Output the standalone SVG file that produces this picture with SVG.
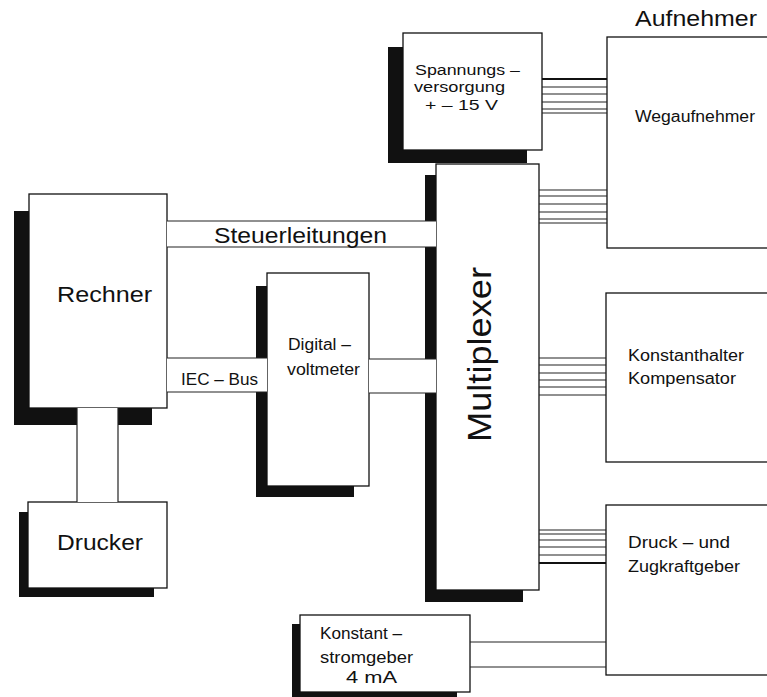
<svg xmlns="http://www.w3.org/2000/svg" width="767" height="697" viewBox="0 0 767 697">
<style>
.box{fill:#fff;stroke:#111;stroke-width:1.3}
.sh{fill:#111}
.ln{stroke:#222;stroke-width:1.2;fill:none}
.thk{stroke:#111;stroke-width:2.2;fill:none}
.band{fill:#fff;stroke:none}
text{font-family:"Liberation Sans",Arial,sans-serif;fill:#111}
.s{font-size:16px}
.xs{font-size:14px}
.m{font-size:22px}
.l{font-size:34px}
</style>
<rect width="767" height="697" fill="#fff"/>

<g id="aufnehmer-title"><text class="m" x="635" y="26" textLength="122" lengthAdjust="spacingAndGlyphs">Aufnehmer</text></g>

<g id="spannungsversorgung">
<rect class="sh" x="388" y="47" width="139" height="116"/>
<rect class="box" x="403" y="33" width="139" height="117"/>
<text class="xs" x="415" y="75" textLength="105" lengthAdjust="spacingAndGlyphs">Spannungs –</text>
<text class="xs" x="414" y="92" textLength="91" lengthAdjust="spacingAndGlyphs">versorgung</text>
<text class="xs" x="425" y="110" textLength="73" lengthAdjust="spacingAndGlyphs">+ –  15 V</text>
</g>

<g id="rechner">
<rect class="sh" x="14" y="211" width="138" height="214"/>
<rect class="box" x="29" y="194" width="138" height="214"/>
<text class="m" x="57" y="302" textLength="95" lengthAdjust="spacingAndGlyphs">Rechner</text>
</g>

<g id="multiplexer">
<rect class="sh" x="425" y="175" width="98" height="427"/>
<rect class="box" x="436" y="164" width="103" height="426"/>
<text class="l" transform="translate(491,442) rotate(-90)" textLength="175" lengthAdjust="spacingAndGlyphs">Multiplexer</text>
</g>

<g id="digitalvoltmeter">
<rect class="sh" x="256" y="286" width="98" height="211"/>
<rect class="box" x="267" y="273" width="102" height="213"/>
<text class="s" x="288" y="350" textLength="63" lengthAdjust="spacingAndGlyphs">Digital –</text>
<text class="s" x="287" y="375" textLength="73" lengthAdjust="spacingAndGlyphs">voltmeter</text>
</g>

<g id="drucker">
<rect class="sh" x="19" y="512" width="135" height="85"/>
<rect class="box" x="28" y="502" width="139" height="86"/>
<text class="m" x="57" y="550" textLength="86" lengthAdjust="spacingAndGlyphs">Drucker</text>
</g>

<g id="konstantstromgeber">
<rect class="sh" x="292" y="624" width="165" height="80"/>
<rect class="box" x="300" y="615" width="170" height="77"/>
<text class="s" x="320" y="639" textLength="82" lengthAdjust="spacingAndGlyphs">Konstant –</text>
<text class="s" x="320" y="663" textLength="93" lengthAdjust="spacingAndGlyphs">stromgeber</text>
<text class="s" x="346" y="683" textLength="51" lengthAdjust="spacingAndGlyphs">4 mA</text>
</g>

<g id="wegaufnehmer">
<rect class="box" x="607" y="37" width="175" height="211"/>
<text class="s" x="635" y="122" textLength="120" lengthAdjust="spacingAndGlyphs">Wegaufnehmer</text>
</g>

<g id="konstanthalter">
<rect class="box" x="606" y="293" width="175" height="169"/>
<text class="s" x="628" y="361" textLength="116" lengthAdjust="spacingAndGlyphs">Konstanthalter</text>
<text class="s" x="628" y="384" textLength="108" lengthAdjust="spacingAndGlyphs">Kompensator</text>
</g>

<g id="druckgeber">
<rect class="box" x="606" y="505" width="175" height="170"/>
<text class="s" x="628" y="548" textLength="102" lengthAdjust="spacingAndGlyphs">Druck –  und</text>
<text class="s" x="628" y="572" textLength="112" lengthAdjust="spacingAndGlyphs">Zugkraftgeber</text>
</g>

<g id="connectors">
<!-- Steuerleitungen -->
<rect class="band" x="167" y="221" width="269" height="26"/>
<line class="ln" x1="167" y1="221" x2="436" y2="221"/>
<line class="ln" x1="167" y1="247" x2="436" y2="247"/>
<text class="m" x="214" y="243" textLength="173" lengthAdjust="spacingAndGlyphs">Steuerleitungen</text>
<!-- IEC-Bus -->
<rect class="band" x="167" y="358" width="100" height="34"/>
<line class="ln" x1="167" y1="358" x2="267" y2="358"/>
<line class="ln" x1="167" y1="392" x2="267" y2="392"/>
<text class="s" x="181" y="385" textLength="77" lengthAdjust="spacingAndGlyphs">IEC – Bus</text>
<!-- DVM to Multiplexer -->
<rect class="band" x="369" y="359" width="67" height="34"/>
<line class="ln" x1="369" y1="359" x2="436" y2="359"/>
<line class="ln" x1="369" y1="393" x2="436" y2="393"/>
<!-- Rechner to Drucker -->
<rect class="band" x="77" y="408" width="41" height="94"/>
<line class="ln" x1="77" y1="408" x2="77" y2="502"/>
<line class="ln" x1="118" y1="408" x2="118" y2="502"/>
<!-- Spannung to Wegaufnehmer -->
<line class="thk" x1="542" y1="79" x2="607" y2="79"/>
<line class="ln" x1="542" y1="87" x2="607" y2="87"/>
<line class="ln" x1="542" y1="94" x2="607" y2="94"/>
<line class="ln" x1="542" y1="102" x2="607" y2="102"/>
<line class="ln" x1="542" y1="109" x2="607" y2="109"/>
<line class="ln" x1="542" y1="113" x2="607" y2="113"/>
<!-- Mux to Wegaufnehmer -->
<line class="ln" x1="539" y1="190" x2="607" y2="190"/>
<line class="ln" x1="539" y1="196" x2="607" y2="196"/>
<line class="ln" x1="539" y1="204" x2="607" y2="204"/>
<line class="ln" x1="539" y1="212" x2="607" y2="212"/>
<line class="ln" x1="539" y1="219" x2="607" y2="219"/>
<line class="ln" x1="539" y1="223" x2="607" y2="223"/>
<!-- Mux to Konstanthalter -->
<line class="ln" x1="539" y1="358" x2="606" y2="358"/>
<line class="ln" x1="539" y1="365" x2="606" y2="365"/>
<line class="ln" x1="539" y1="373" x2="606" y2="373"/>
<line class="ln" x1="539" y1="380" x2="606" y2="380"/>
<line class="ln" x1="539" y1="387" x2="606" y2="387"/>
<line class="ln" x1="539" y1="395" x2="606" y2="395"/>
<!-- Mux to Druckgeber -->
<line class="ln" x1="539" y1="530" x2="606" y2="530"/>
<line class="ln" x1="539" y1="534" x2="606" y2="534"/>
<line class="ln" x1="539" y1="540" x2="606" y2="540"/>
<line class="ln" x1="539" y1="547" x2="606" y2="547"/>
<line class="ln" x1="539" y1="555" x2="606" y2="555"/>
<line class="thk" x1="539" y1="563" x2="606" y2="563"/>
<!-- Konstantstromgeber to Druckgeber -->
<line class="ln" x1="470" y1="642" x2="606" y2="642"/>
<line class="ln" x1="470" y1="667" x2="606" y2="667"/>
</g>
</svg>
